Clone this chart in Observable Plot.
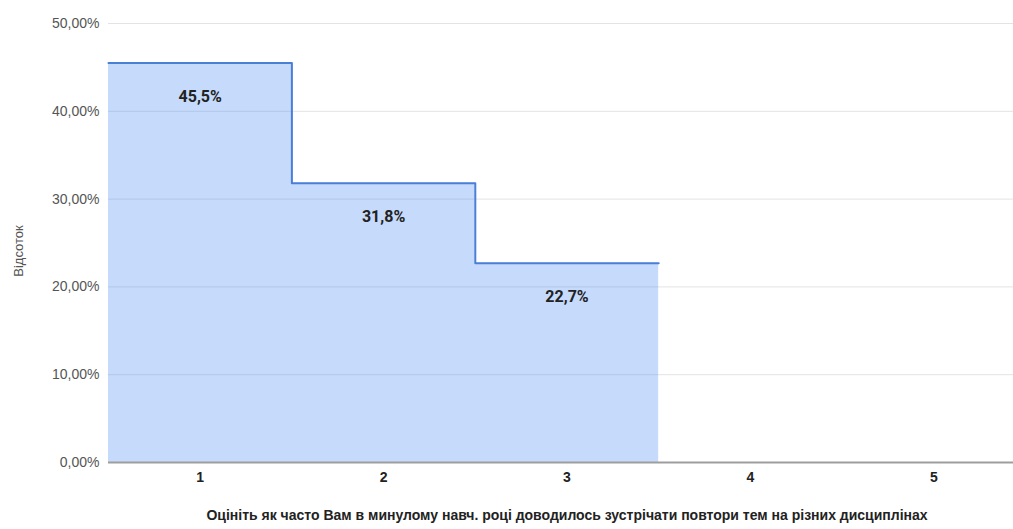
<!DOCTYPE html>
<html>
<head>
<meta charset="utf-8">
<script src="https://cdn.jsdelivr.net/npm/d3@7"></script>
<script src="https://cdn.jsdelivr.net/npm/@observablehq/plot@0.6"></script>
<style>
  html, body { margin: 0; padding: 0; background: #fff; overflow: hidden; }
  svg { display: block; }
</style>
</head>
<body>
<div id="chart"></div>
<script>
const categories = [1, 2, 3, 4, 5];
const values = [45.5, 31.8, 22.7, null, null];
const yTicks = [0, 10, 20, 30, 40, 50];
const yTitle = "Відсоток";
const xTitle = "Оцініть як часто Вам в минулому навч. році доводилось зустрічати повтори тем на різних дисциплінах";

// step points built from the data: each category spans [c-0.5, c+0.5]
const present = categories.map((c, i) => ({c, v: values[i]})).filter(d => d.v != null);
const steps = present.map(d => ({x: d.c - 0.5, y: d.v}));
steps.push({x: present[present.length - 1].c + 0.5, y: present[present.length - 1].v});

const fmtTick = d => d.toFixed(2).replace(".", ",") + "%";
const fmtLabel = d => d.toFixed(1).replace(".", ",") + "%";

const chart = Plot.plot({
  width: 1013,
  height: 529,
  marginTop: 23,
  marginBottom: 67,
  marginLeft: 108,
  marginRight: 0,
  style: {fontFamily: "Arial, 'Liberation Sans', sans-serif", background: "#fff"},
  x: {type: "linear", domain: [0.5, 5.5], range: [108, 1025]},
  y: {domain: [0, 50]},
  marks: [
    Plot.ruleY(yTicks.filter(t => t > 0), {stroke: "#e3e3e3", strokeWidth: 1}),
    Plot.areaY(steps, {x: "x", y: "y", curve: "step-after", fill: "#4285f4", fillOpacity: 0.3}),
    Plot.line(steps, {x: "x", y: "y", curve: "step-after", stroke: "#4a7fd8", strokeWidth: 2}),
    Plot.ruleY([0], {stroke: "#9e9e9e", strokeWidth: 2}),
    Plot.axisY({ticks: yTicks, tickSize: 0, tickPadding: 9, tickFormat: fmtTick, fontSize: 14, color: "#555", label: null}),
    Plot.axisX({ticks: categories, tickSize: 0, tickPadding: 10, tickFormat: d => String(d), fontSize: 14, fontWeight: "bold", color: "#222", label: null}),
    Plot.text(present, {x: "c", y: "v", text: d => fmtLabel(d.v), dy: 34, fontSize: 16, fontWeight: "bold", fill: "#222", fontFamily: "Roboto, Arial, sans-serif"}),
    Plot.text([yTitle], {frameAnchor: "left", textAnchor: "middle", dx: -90, dy: 8, rotate: -90, fontSize: 13, fill: "#555"}),
    Plot.text([xTitle], {x: () => 3, frameAnchor: "bottom", dy: 57, fontSize: 14, fontWeight: "bold", fill: "#222"})
  ]
});
document.getElementById("chart").appendChild(chart);
</script>
</body>
</html>
